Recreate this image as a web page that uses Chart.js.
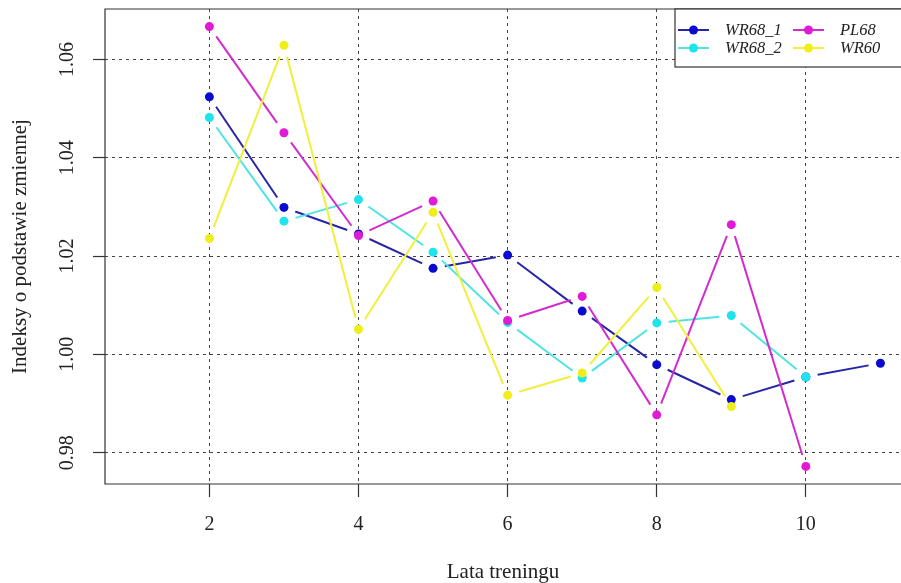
<!DOCTYPE html>
<html>
<head>
<meta charset="utf-8">
<script src="https://cdn.jsdelivr.net/npm/chart.js@4/dist/chart.umd.min.js"></script>
<style>
  html, body { margin: 0; padding: 0; background: #fff; overflow: hidden; }
</style>
</head>
<body>
<canvas id="wykres" width="901" height="583"></canvas>
<script>
// Dane
const lata = [2, 3, 4, 5, 6, 7, 8, 9, 10, 11];
const wr68_1 = [1.0524, 1.0299, 1.0245, 1.0175, 1.0202, 1.0088, 0.9979, 0.9908, 0.9954, 0.9982];
const wr68_2 = [1.0482, 1.0271, 1.0315, 1.0208, 1.0065, 0.9952, 1.0064, 1.0079, 0.9954];
const pl68 = [1.0667, 1.0451, 1.0242, 1.0312, 1.0069, 1.0118, 0.9877, 1.0264, 0.9772];
const wr60 = [1.0236, 1.0629, 1.0051, 1.0289, 0.9917, 0.9962, 1.0136, 0.9894];

const xTicks = [2, 4, 6, 8, 10];
const yTicks = [0.98, 1.00, 1.02, 1.04, 1.06];
const yTickLabels = ['0.98', '1.00', '1.02', '1.04', '1.06'];

const serie = [
  { nazwa: 'WR68_1', dane: wr68_1, linia: '#2626a6', punkt: '#0b0bd0' },
  { nazwa: 'WR68_2', dane: wr68_2, linia: '#4fe4e4', punkt: '#1ee4ee' },
  { nazwa: 'PL68', dane: pl68, linia: '#d22ccc', punkt: '#e01ad6' },
  { nazwa: 'WR60', dane: wr60, linia: '#f0f03c', punkt: '#eeee1a' }
];
// kolejnosc legendy (dwie kolumny)
const legenda = [['WR68_1', 'WR68_2'], ['PL68', 'WR60']];

const FONT = '"Liberation Serif", "DejaVu Serif", serif';
const GAP = 12;

// przerwy przy punktach jak w R (type = "b")
const segLen = (ctx) => Math.hypot(ctx.p1.x - ctx.p0.x, ctx.p1.y - ctx.p0.y);

const datasets = serie.map((s, i) => ({
  label: s.nazwa,
  data: s.dane.map((v, j) => ({ x: lata[j], y: v })),
  borderColor: s.linia,
  borderWidth: 2,
  pointRadius: 4.5,
  pointHoverRadius: 4.5,
  pointBorderWidth: 0,
  pointBackgroundColor: s.punkt,
  tension: 0,
  order: 4 - i,
  segment: {
    borderDash: (ctx) => { const L = segLen(ctx); return [Math.max(L - 2 * GAP, 0.01), 2 * GAP]; },
    borderDashOffset: (ctx) => segLen(ctx) - GAP
  }
}));

const ramka = {
  id: 'ramka',
  afterDraw(chart) {
    const { ctx, chartArea: a, scales } = chart;
    ctx.save();
    // ramka wykresu (prawa krawedz poza obrazkiem)
    ctx.strokeStyle = '#333';
    ctx.lineWidth = 1.2;
    ctx.beginPath();
    ctx.moveTo(chart.width + 5, a.top);
    ctx.lineTo(a.left, a.top);
    ctx.lineTo(a.left, a.bottom);
    ctx.lineTo(chart.width + 5, a.bottom);
    ctx.stroke();

    // etykiety osi Y (obrocone)
    ctx.fillStyle = '#222';
    ctx.font = '20px ' + FONT;
    ctx.textAlign = 'center';
    ctx.textBaseline = 'middle';
    yTicks.forEach((v, i) => {
      const y = scales.y.getPixelForValue(v);
      ctx.save();
      ctx.translate(68, y);
      ctx.rotate(-Math.PI / 2);
      ctx.fillText(yTickLabels[i], 0, 0);
      ctx.restore();
    });

    // legenda
    const lx = 675, ly = a.top, lw = 240, lh = 58;
    ctx.fillStyle = '#fff';
    ctx.fillRect(lx, ly, lw, lh);
    ctx.strokeStyle = '#333';
    ctx.strokeRect(lx, ly, lw, lh);
    const kolX = [678, 793];
    const wierszY = [ly + 21, ly + 39];
    ctx.font = 'italic 16.5px ' + FONT;
    ctx.textAlign = 'left';
    legenda.forEach((kol, k) => {
      kol.forEach((nazwa, w) => {
        const s = serie.find(z => z.nazwa === nazwa);
        const x0 = kolX[k], y0 = wierszY[w];
        ctx.strokeStyle = s.linia;
        ctx.lineWidth = 2;
        ctx.beginPath();
        ctx.moveTo(x0, y0);
        ctx.lineTo(x0 + 31, y0);
        ctx.stroke();
        ctx.fillStyle = s.punkt;
        ctx.beginPath();
        ctx.arc(x0 + 15.5, y0, 4.5, 0, Math.PI * 2);
        ctx.fill();
        ctx.fillStyle = '#222';
        ctx.fillText(nazwa, x0 + 47, y0 + 1);
      });
    });
    ctx.restore();
  }
};

new Chart(document.getElementById('wykres'), {
  type: 'line',
  data: { datasets },
  options: {
    responsive: false,
    animation: false,
    events: [],
    layout: { autoPadding: false, padding: { top: 9, right: 0, left: 0, bottom: 0 } },
    plugins: {
      legend: { display: false },
      tooltip: { enabled: false }
    },
    scales: {
      x: {
        type: 'linear',
        min: 0.6,
        max: 11.276,
        afterBuildTicks: (scale) => { scale.ticks = xTicks.map(v => ({ value: v })); },
        afterFit: (scale) => { scale.height = 99; scale.paddingLeft = 0; scale.paddingRight = 0; },
        border: { display: false, dash: [3, 4] },
        grid: {
          color: '#444',
          lineWidth: 1,
          drawTicks: true,
          tickLength: 13,
          tickColor: '#333',
          tickWidth: 1.2,
          tickBorderDash: []
        },
        ticks: {
          color: '#222',
          font: { family: FONT, size: 20 },
          padding: 16,
          maxRotation: 0,
          autoSkip: false
        },
        title: {
          display: true,
          text: 'Lata treningu',
          color: '#222',
          font: { family: FONT, size: 21, lineHeight: 1 },
          padding: { top: 0, bottom: 0 }
        }
      },
      y: {
        min: 0.97362,
        max: 1.07028,
        afterBuildTicks: (scale) => { scale.ticks = yTicks.map(v => ({ value: v })); },
        afterFit: (scale) => { scale.width = 105; scale.paddingTop = 0; scale.paddingBottom = 0; },
        border: { display: false, dash: [3, 4] },
        grid: {
          color: '#444',
          lineWidth: 1,
          drawTicks: true,
          tickLength: 12,
          tickColor: '#333',
          tickWidth: 1.2,
          tickBorderDash: []
        },
        ticks: { display: false },
        title: {
          display: true,
          text: 'Indeksy o podstawie zmiennej',
          color: '#222',
          font: { family: FONT, size: 21, lineHeight: 1 },
          padding: { top: 9.5, bottom: 0 }
        }
      }
    }
  },
  plugins: [ramka]
});
</script>
</body>
</html>
